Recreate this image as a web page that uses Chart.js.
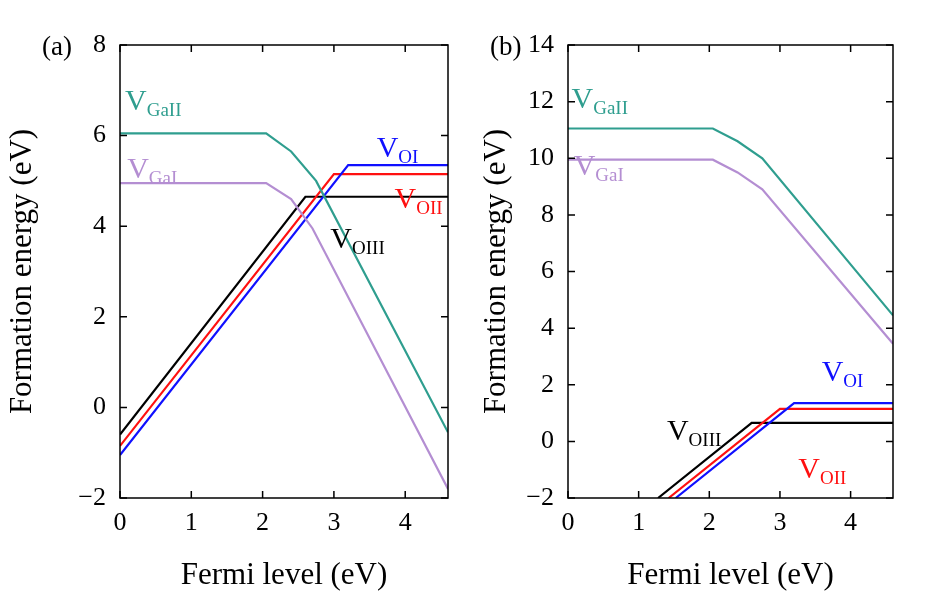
<!DOCTYPE html>
<html><head><meta charset="utf-8">
<script src="https://cdn.jsdelivr.net/npm/chart.js@4/dist/chart.umd.min.js"></script>
<style>
body{margin:0;background:#fff;}
.p{position:absolute;top:0;width:474px;height:598px;}
</style></head><body>
<div class="p" style="left:0"><canvas id="ca"></canvas></div>
<div class="p" style="left:474px"><canvas id="cb"></canvas></div>
<script>
// panel (a) data
const aGaII = [[0,6.05],[2.05,6.05],[2.4,5.65],[2.75,5.0],[4.6,-0.55]];
const aGaI  = [[0,4.95],[2.05,4.95],[2.4,4.6],[2.7,3.95],[4.6,-1.8]];
const aOI   = [[0,-1.05],[3.2,5.35],[4.6,5.35]];
const aOII  = [[0,-0.85],[3.0,5.15],[4.6,5.15]];
const aOIII = [[0,-0.6],[2.6,4.65],[4.6,4.65]];
// panel (b) data
const bGaII = [[0,11.05],[2.05,11.05],[2.4,10.6],[2.75,10.0],[4.6,4.45]];
const bGaI  = [[0,9.95],[2.05,9.95],[2.4,9.5],[2.75,8.9],[4.6,3.45]];
const bOI   = [[1.525,-2],[3.2,1.35],[4.6,1.35]];
const bOII  = [[1.425,-2],[3.0,1.15],[4.6,1.15]];
const bOIII = [[1.275,-2],[2.6,0.65],[4.6,0.65]];
const xTicks = [0,1,2,3,4];
const aYTicks = [-2,0,2,4,6,8];
const bYTicks = [-2,0,2,4,6,8,10,12,14];

const C = {GaII:'#2f9e8f', GaI:'#b48ed2', OI:'#1010ff', OII:'#ff1010', OIII:'#000'};
const FONT = 'Liberation Serif';

function ds(pts,color){
  return {data:pts.map(p=>({x:p[0],y:p[1]})),borderColor:color,borderWidth:2.2,pointRadius:0,fill:false,tension:0};
}

function makeChart(id,panel,sets,yTicks,ymax,labels,leftW,padR){
  const deco = {
    id:'deco',
    afterDraw(ch){
      const g=ch.ctx, a=ch.chartArea, sx=ch.scales.x, sy=ch.scales.y;
      g.save();
      g.strokeStyle='#000';g.lineWidth=1.5;
      g.strokeRect(a.left,a.top,a.right-a.left,a.bottom-a.top);
      // inward ticks
      xTicks.forEach(v=>{const px=sx.getPixelForValue(v);
        g.beginPath();g.moveTo(px,a.bottom);g.lineTo(px,a.bottom-7);g.moveTo(px,a.top);g.lineTo(px,a.top+7);g.stroke();});
      yTicks.forEach(v=>{const py=sy.getPixelForValue(v);
        g.beginPath();g.moveTo(a.left,py);g.lineTo(a.left+7,py);g.moveTo(a.right,py);g.lineTo(a.right-7,py);g.stroke();});
      // panel label
      g.fillStyle='#000';g.font='27px '+FONT;g.textBaseline='alphabetic';
      g.fillText(panel,a.left-78,a.top+10);
      // species labels
      labels.forEach(l=>{
        const px=sx.getPixelForValue(l.x), py=sy.getPixelForValue(l.y);
        g.fillStyle=l.c;g.font='30px '+FONT;g.fillText('V',px,py);
        const w=g.measureText('V').width;
        g.font='19px '+FONT;g.fillText(l.s,px+w,py+6);
      });
      g.restore();
    }
  };
  return new Chart(document.getElementById(id),{
    type:'line',
    data:{datasets:sets},
    options:{
      responsive:true,maintainAspectRatio:false,animation:false,
      layout:{padding:{top:45,right:padR,left:0,bottom:0}},
      plugins:{legend:{display:false},tooltip:{enabled:false}},
      scales:{
        x:{type:'linear',min:0,max:4.6,
          afterBuildTicks:s=>{s.ticks=xTicks.map(v=>({value:v}));},
          afterFit:s=>{s.height=100;},
          grid:{display:false},border:{display:false},
          ticks:{color:'#000',font:{family:FONT,size:26},padding:2},
          title:{display:true,text:'Fermi level (eV)',color:'#000',font:{family:FONT,size:31},padding:{top:0}}},
        y:{type:'linear',min:-2,max:ymax,
          afterBuildTicks:s=>{s.ticks=yTicks.map(v=>({value:v}));},
          afterFit:s=>{s.width=leftW;},
          grid:{display:false},border:{display:false},
          ticks:{color:'#000',font:{family:FONT,size:26},padding:6,callback:v=>v<0?'\u2212'+Math.abs(v):v},
          title:{display:true,text:'Formation energy (eV)',color:'#000',font:{family:FONT,size:31},padding:{bottom:2}}}
      }
    },
    plugins:[deco]
  });
}

makeChart('ca','(a)',[ds(aGaII,C.GaII),ds(aGaI,C.GaI),ds(aOI,C.OI),ds(aOII,C.OII),ds(aOIII,C.OIII)],aYTicks,8,
  [{x:0.07,y:6.57,s:'GaII',c:C.GaII},{x:0.1,y:5.06,s:'GaI',c:C.GaI},{x:3.6,y:5.53,s:'OI',c:C.OI},
   {x:3.85,y:4.4,s:'OII',c:C.OII},{x:2.95,y:3.52,s:'OIII',c:C.OIII}],120,26);
makeChart('cb','(b)',[ds(bGaII,C.GaII),ds(bGaI,C.GaI),ds(bOI,C.OI),ds(bOII,C.OII),ds(bOIII,C.OIII)],bYTicks,14,
  [{x:0.05,y:11.78,s:'GaII',c:C.GaII},{x:0.08,y:9.41,s:'GaI',c:C.GaI},{x:3.59,y:2.15,s:'OI',c:C.OI},
   {x:1.4,y:0.05,s:'OIII',c:C.OIII},{x:3.26,y:-1.3,s:'OII',c:C.OII}],94,55);
</script>
</body></html>
